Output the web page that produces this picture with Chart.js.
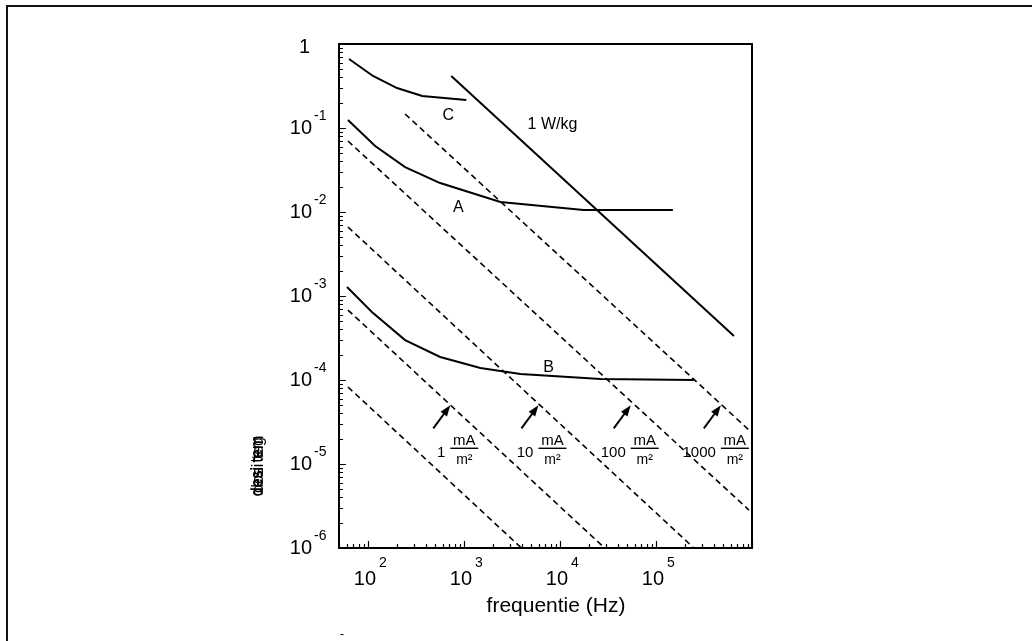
<!DOCTYPE html>
<html><head><meta charset="utf-8">
<script src="https://cdn.jsdelivr.net/npm/chart.js@4.4.1/dist/chart.umd.min.js"></script>
<style>html,body{margin:0;padding:0;background:#fff;} #wrap{width:1032px;height:641px;position:relative;}</style>
</head><body><div id="wrap"><canvas id="c" width="1032" height="641"></canvas></div>
<script>
// ---- data ----
const xTickExponents = [2, 3, 4, 5];
const yTickExponents = [0, -1, -2, -3, -4, -5, -6];
const xTitle = "frequentie (Hz)";
const yTitleA = "desi tem";
const yTitleB = "dosi teg";

const curveC_x = [63.6, 113, 201, 368, 1059];
const curveC_y = [0.663, 0.416, 0.299, 0.240, 0.216];
const curveA_x = [62, 119, 244, 566, 2397, 17620, 150000];
const curveA_y = [0.1245, 0.0611, 0.0343, 0.0221, 0.01315, 0.01056, 0.01056];
const curveB_x = [60.6, 110, 244, 566, 1483, 3875, 26500, 248000];
const curveB_y = [1.28e-3, 6.45e-4, 2.99e-4, 1.88e-4, 1.39e-4, 1.18e-4, 1.03e-4, 1.0e-4];
const wkg_x = [738, 649000];
const wkg_y = [0.416, 3.34e-4];

const dash1000_x = [244, 930000];  const dash1000_y = [0.1468, 2.54e-5];
const dash100_x  = [62, 930000];   const dash100_y  = [0.070, 2.83e-6];
const dash10_x   = [62, 248000];   const dash10_y   = [6.63e-3, 1e-6];
const dash1_x    = [62, 29200];    const dash1_y    = [6.8e-4, 1e-6];
const dash01_x   = [62, 3970];     const dash01_y   = [8.26e-5, 1e-6];

const curveLabels   = ["C", "A", "B", "1 W/kg"];
const curveLabel_x  = [687, 873, 7600, 8360];
const curveLabel_y  = [0.139, 0.01116, 1.39e-4, 0.1086];

const densityLabels = ["1", "10", "100", "1000"];
const arrowTip_x    = [721, 5970, 54600, 474000];
const arrowTip_y    = [5.0e-5, 5.0e-5, 5.0e-5, 5.0e-5];

// ---- build ----
const pts = (xs, ys) => xs.map((v, i) => ({x: v, y: ys[i]}));
const solid = (xs, ys) => ({data: pts(xs, ys), borderColor: '#000', borderWidth: 2, pointRadius: 0, tension: 0, fill: false});
const dashed = (xs, ys) => ({data: pts(xs, ys), borderColor: '#000', borderWidth: 1.6, borderDash: [6, 4], pointRadius: 0, tension: 0, fill: false});

const FONT = '"Liberation Sans", Arial, sans-serif';

const deco = {
  id: 'deco',
  afterDraw(chart) {
    const {ctx, chartArea: a, scales: {x, y}} = chart;
    ctx.save();
    // page frame
    ctx.strokeStyle = '#111'; ctx.lineWidth = 2;
    ctx.beginPath(); ctx.moveTo(7, 641); ctx.lineTo(7, 6); ctx.lineTo(1032, 6); ctx.stroke();
    // plot box
    ctx.strokeStyle = '#000'; ctx.lineWidth = 2;
    ctx.strokeRect(a.left, a.top, a.right - a.left, a.bottom - a.top);
    // ticks
    ctx.lineWidth = 1.2;
    ctx.beginPath();
    for (let e = 1; e <= 6; e++) for (let k = 1; k < 10; k++) {
      const v = k * Math.pow(10, e);
      if (v < 50 || v > 1e6) continue;
      const px = Math.round(x.getPixelForValue(v)) + 0.5;
      const len = k === 1 ? 7 : 4;
      ctx.moveTo(px, a.bottom); ctx.lineTo(px, a.bottom - len);
    }
    for (let e = -6; e <= 0; e++) for (let k = 1; k < 10; k++) {
      const v = k * Math.pow(10, e);
      if (v < 1e-6 || v > 1) continue;
      const py = Math.round(y.getPixelForValue(v)) + 0.5;
      const len = k === 1 ? 7 : 4;
      ctx.moveTo(a.left, py); ctx.lineTo(a.left + len, py);
    }
    ctx.stroke();
    ctx.fillStyle = '#000';
    // x tick labels
    xTickExponents.forEach(e => {
      const px = x.getPixelForValue(Math.pow(10, e));
      ctx.font = '20px ' + FONT; ctx.textAlign = 'center'; ctx.textBaseline = 'alphabetic';
      ctx.fillText('10', px - 3, a.bottom + 37);
      ctx.font = '14px ' + FONT; ctx.textAlign = 'left';
      ctx.fillText(String(e), px + 11, a.bottom + 19);
    });
    // y tick labels
    yTickExponents.forEach(e => {
      const py = y.getPixelForValue(Math.pow(10, e));
      ctx.textBaseline = 'middle';
      if (e === 0) {
        ctx.font = '20px ' + FONT; ctx.textAlign = 'right';
        ctx.fillText('1', a.left - 29, py + 3);
      } else {
        ctx.font = '20px ' + FONT; ctx.textAlign = 'right';
        ctx.fillText('10', a.left - 27, py);
        ctx.font = '14px ' + FONT; ctx.textAlign = 'left';
        ctx.fillText('-' + Math.abs(e), a.left - 25, py - 12);
      }
    });
    // axis titles
    ctx.font = '21px ' + FONT; ctx.textAlign = 'center'; ctx.textBaseline = 'alphabetic';
    ctx.fillText(xTitle, 556, 612);
    ctx.save();
    ctx.translate(263, 466); ctx.rotate(-Math.PI / 2);
    ctx.font = '16px ' + FONT; ctx.textAlign = 'center'; ctx.textBaseline = 'alphabetic';
    ctx.fillText(yTitleA, 0, 0);
    ctx.fillText(yTitleB, 1, 0);
    ctx.fillText(yTitleA, 0, -1);
    ctx.restore();
    // stray mark
    ctx.font = '13px ' + FONT; ctx.textAlign = 'center';
    ctx.fillText('-', 342, 638);
    // curve labels
    ctx.font = '16px ' + FONT; ctx.textAlign = 'center'; ctx.textBaseline = 'middle';
    curveLabels.forEach((t, i) => {
      ctx.fillText(t, x.getPixelForValue(curveLabel_x[i]), y.getPixelForValue(curveLabel_y[i]));
    });
    // density arrows + labels
    densityLabels.forEach((t, i) => {
      const tx = x.getPixelForValue(arrowTip_x[i]);
      const ty = y.getPixelForValue(arrowTip_y[i]);
      const sx = tx - 17, sy = ty + 23;
      const ang = Math.atan2(ty - sy, tx - sx);
      ctx.lineWidth = 2; ctx.strokeStyle = '#000';
      ctx.beginPath(); ctx.moveTo(sx, sy);
      ctx.lineTo(tx - 8 * Math.cos(ang), ty - 8 * Math.sin(ang)); ctx.stroke();
      ctx.beginPath();
      ctx.moveTo(tx, ty);
      ctx.lineTo(tx - 11 * Math.cos(ang) + 4 * Math.sin(ang), ty - 11 * Math.sin(ang) - 4 * Math.cos(ang));
      ctx.lineTo(tx - 11 * Math.cos(ang) - 4 * Math.sin(ang), ty - 11 * Math.sin(ang) + 4 * Math.cos(ang));
      ctx.closePath(); ctx.fill();
      const fc = tx + 14;
      ctx.font = '15px ' + FONT; ctx.textBaseline = 'alphabetic'; ctx.textAlign = 'center';
      ctx.fillText('mA', fc, ty + 40);
      ctx.font = '14px ' + FONT;
      ctx.fillText('m²', fc, ty + 59);
      ctx.lineWidth = 1.4;
      ctx.beginPath(); ctx.moveTo(fc - 14, ty + 43); ctx.lineTo(fc + 14, ty + 43); ctx.stroke();
      ctx.font = '15px ' + FONT;
      ctx.textAlign = 'right'; ctx.textBaseline = 'middle';
      ctx.fillText(t, fc - 19, ty + 48);
    });
    ctx.restore();
  }
};

new Chart(document.getElementById('c'), {
  type: 'line',
  data: {
    datasets: [
      solid(curveC_x, curveC_y),
      solid(curveA_x, curveA_y),
      solid(curveB_x, curveB_y),
      solid(wkg_x, wkg_y),
      dashed(dash1000_x, dash1000_y),
      dashed(dash100_x, dash100_y),
      dashed(dash10_x, dash10_y),
      dashed(dash1_x, dash1_y),
      dashed(dash01_x, dash01_y)
    ]
  },
  options: {
    responsive: false,
    animation: false,
    layout: {padding: {left: 339, top: 44, right: 280, bottom: 93}},
    plugins: {legend: {display: false}, tooltip: {enabled: false}},
    scales: {
      x: {type: 'logarithmic', min: 50, max: 1e6, display: false},
      y: {type: 'logarithmic', min: 1e-6, max: 1, display: false}
    }
  },
  plugins: [deco]
});
</script>
</body></html>
